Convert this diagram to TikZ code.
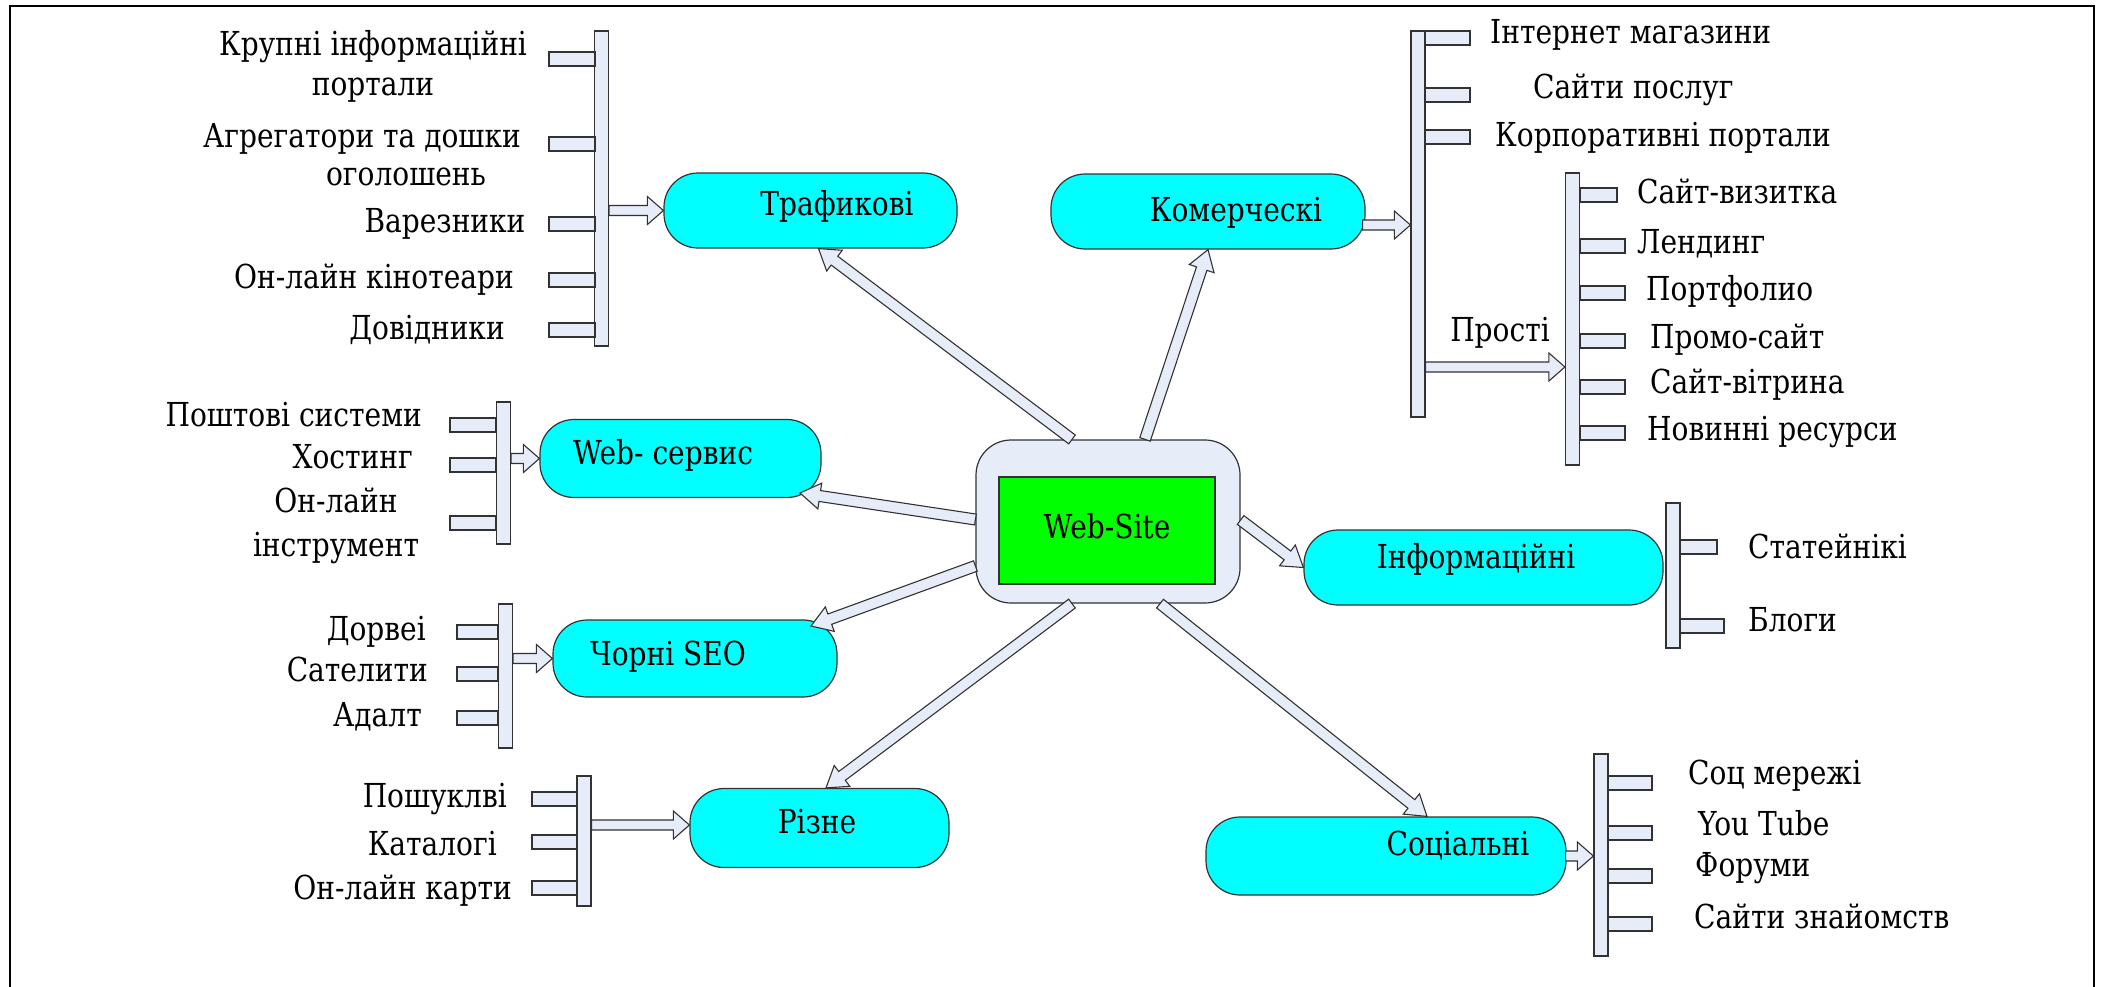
\documentclass[tikz,border=0pt]{standalone}
\usepackage{fontspec}
\setmainfont{DejaVu Serif}[FakeStretch=0.85]
\usetikzlibrary{calc}
\definecolor{paleblue}{RGB}{230,236,248}
\definecolor{pillcyan}{RGB}{0,255,255}
\definecolor{sitegreen}{RGB}{0,255,0}
\definecolor{edge}{RGB}{50,50,50}

% block arrow: start, tip, shaft half-width, head half-width, head length
\newcommand\blockarrow[5]{%
  \coordinate (ba-b) at ($(#2)!#5!(#1)$);
  \draw[arrowbody] ($(#1)!#3!90:(#2)$) -- ($(ba-b)!#3!90:(#2)$) -- ($(ba-b)!#4!90:(#2)$)
    -- (#2) -- ($(ba-b)!#4!-90:(#2)$) -- ($(ba-b)!#3!-90:(#2)$) -- ($(#1)!#3!-90:(#2)$) -- cycle;}
\newcommand\hubarrow[2]{\blockarrow{#1}{#2}{5.5pt}{13pt}{20pt}}
\newcommand\feedarrow[2]{\blockarrow{#1}{#2}{5pt}{14pt}{16pt}}

\begin{document}
\begin{tikzpicture}[x=1pt,y=-1pt,
  lbl/.style={font=\fontsize{33pt}{40pt}\selectfont, inner sep=0pt, text height=24pt, text depth=8pt},
  pill/.style={draw=edge, line width=1.2pt, fill=pillcyan, rounded corners=34pt, inner sep=0pt},
  bar/.style={draw=edge, line width=1.2pt, fill=paleblue, minimum width=14pt, inner sep=0pt},
  stub/.style={draw=edge, line width=1.2pt, fill=paleblue, minimum height=14pt, inner sep=0pt},
  arrowbody/.style={draw=edge, line width=1.1pt, fill=paleblue, line join=miter},
  frame/.style={line width=2.5pt, black}]
\useasboundingbox (0,0) rectangle (2101,986);
\draw[frame] (10,990) -- (10,6) -- (2094,6) -- (2094,990);

% centre
\node[draw=edge, line width=1.2pt, fill=paleblue, rounded corners=35pt,
      minimum width=264pt, minimum height=163pt] (site) at (1108,521.5) {};
\node[lbl, draw=edge, line width=1.2pt, fill=sitegreen,
      minimum width=216pt, minimum height=107pt] (core) at (1107,530.5) {Web-Site};

% category pills
\node[pill, minimum width=293pt, minimum height=75pt] (traf) at (810.5,210.5) {};
\node[pill, minimum width=314pt, minimum height=75pt] (kom) at (1208,211.5) {};
\node[pill, minimum width=281pt, minimum height=78pt] (web) at (680.5,458.5) {};
\node[pill, minimum width=284pt, minimum height=77pt] (seo) at (695,658.5) {};
\node[pill, minimum width=259pt, minimum height=79pt] (rizne) at (819.5,828) {};
\node[pill, minimum width=359pt, minimum height=75pt] (info) at (1483.5,567.5) {};
\node[pill, minimum width=360pt, minimum height=78pt] (soc) at (1386,856) {};

\node[lbl] (trafT) at (837,207) {Трафикові};
\node[lbl] (komT) at (1236,213) {Комерческі};
\node[lbl] (webT) at (663,456) {Web- сервис};
\node[lbl] (seoT) at (668,657) {Чорні SEO};
\node[lbl] (rizneT) at (817,825) {Різне};
\node[lbl] (infoT) at (1476,560) {Інформаційні};
\node[lbl] (socT) at (1458,847) {Соціальні};

% bars
\node[bar, minimum height=315pt] (tbar) at (601.5,188.5) {};
\node[bar, minimum height=386pt] (kbar) at (1418,224) {};
\node[bar, minimum height=292pt] (pbar) at (1572.5,319) {};
\node[bar, minimum height=142pt] (wbar) at (503.5,473) {};
\node[bar, minimum height=144pt] (sbar) at (505.5,676) {};
\node[bar, minimum height=130pt] (rbar) at (584,841) {};
\node[bar, minimum height=145pt] (ibar) at (1673,575.5) {};
\node[bar, minimum height=202pt] (cbar) at (1601,855) {};

% stubs
\foreach \y [count=\i] in {59,144,224,280,330}
  \node[stub, minimum width=46pt] (ts\i) at (572,\y) {};
\foreach \y [count=\i] in {38,95,137}
  \node[stub, minimum width=45pt] (ks\i) at (1447.5,\y) {};
\node[stub, minimum width=37pt] (ps1) at (1598.5,195) {};
\foreach \y [count=\i from 2] in {246,293,341,387,433}
  \node[stub, minimum width=45pt] (ps\i) at (1602.5,\y) {};
\foreach \y [count=\i] in {425,465,523}
  \node[stub, minimum width=46pt] (ws\i) at (473,\y) {};
\foreach \y [count=\i] in {632,674,718}
  \node[stub, minimum width=41pt] (ss\i) at (477.5,\y) {};
\foreach \y [count=\i] in {799,842,888}
  \node[stub, minimum width=45pt] (rs\i) at (554.5,\y) {};
\node[stub, minimum width=37pt] (is1) at (1698.5,547) {};
\node[stub, minimum width=44pt] (is2) at (1702,626) {};
\foreach \y [count=\i] in {783,833,876,924}
  \node[stub, minimum width=44pt] (cs\i) at (1630,\y) {};

% item labels
\node[lbl] (tx1) at (373,47) {Крупні інформаційні};
\node[lbl] (tx2) at (373,87) {портали};
\node[lbl] (tx3) at (362,139) {Агрегатори та дошки};
\node[lbl] (tx4) at (406,177) {оголошень};
\node[lbl] (tx5) at (445,224) {Варезники};
\node[lbl] (tx6) at (374,280) {Он-лайн кінотеари};
\node[lbl] (tx7) at (427,331) {Довідники};

\node[lbl, anchor=west] (kx1) at (1490,35) {Інтернет магазини};
\node[lbl, anchor=west] (kx2) at (1533,90) {Сайти послуг};
\node[lbl, anchor=west] (kx3) at (1495,138) {Корпоративні портали};
\node[lbl] (prostiT) at (1500,333) {Прості};

\node[lbl, anchor=west] (px1) at (1637,195) {Сайт-визитка};
\node[lbl, anchor=west] (px2) at (1637,245) {Лендинг};
\node[lbl, anchor=west] (px3) at (1646,292) {Портфолио};
\node[lbl, anchor=west] (px4) at (1650,340) {Промо-сайт};
\node[lbl, anchor=west] (px5) at (1650,385) {Сайт-вітрина};
\node[lbl, anchor=west] (px6) at (1647,432) {Новинні ресурси};

\node[lbl, anchor=east] (wx1) at (422,418) {Поштові системи};
\node[lbl, anchor=east] (wx2) at (413,460) {Хостинг};
\node[lbl] (wx3) at (336,504) {Он-лайн};
\node[lbl] (wx4) at (336,548) {інструмент};

\node[lbl, anchor=east] (sx1) at (426,632) {Дорвеі};
\node[lbl, anchor=east] (sx2) at (428,673) {Сателити};
\node[lbl, anchor=east] (sx3) at (422,718) {Адалт};

\node[lbl, anchor=east] (rx1) at (507,799) {Пошуклві};
\node[lbl, anchor=east] (rx2) at (497,847) {Каталогі};
\node[lbl, anchor=east] (rx3) at (512,891) {Он-лайн карти};

\node[lbl, anchor=west] (ix1) at (1748,550) {Статейнікі};
\node[lbl, anchor=west] (ix2) at (1748,623) {Блоги};

\node[lbl, anchor=west] (cx1) at (1688,776) {Соц мережі};
\node[lbl, anchor=west] (cx2) at (1698,827) {You Tube};
\node[lbl, anchor=west] (cx3) at (1695,868) {Форуми};
\node[lbl, anchor=west] (cx4) at (1694,920) {Сайти знайомств};

% hub arrows: end points on the node borders
\coordinate (a1s) at ($(site.north)+(-36,0)$);  \coordinate (a1e) at ($(traf.south)+(8,0)$);
\coordinate (a2s) at ($(site.north)+(37,0)$);   \coordinate (a2e) at ($(kom.south)+(0,0)$);
\coordinate (a3s) at ($(site.west)+(0,-2)$);    \coordinate (a3e) at ($(web.center)+(119.5,34.5)$);
\coordinate (a4s) at ($(site.west)+(0,44.5)$);  \coordinate (a4e) at ($(seo.center)+(116,-32.5)$);
\coordinate (a5s) at ($(site.south)+(-36,0)$);  \coordinate (a5e) at ($(rizne.north)+(6.5,0)$);
\coordinate (a6s) at ($(site.east)+(0,-1.5)$);  \coordinate (a6e) at (info.west);
\coordinate (a7s) at ($(site.south)+(52,0)$);   \coordinate (a7e) at ($(soc.north)+(41,0)$);
\hubarrow{a1s}{a1e}
\hubarrow{a2s}{a2e}
\hubarrow{a3s}{a3e}
\hubarrow{a4s}{a4e}
\hubarrow{a5s}{a5e}
\hubarrow{a6s}{a6e}
\hubarrow{a7s}{a7e}

% bar-to-pill arrows
\coordinate (f1s) at (tbar.east |- traf.west);  \coordinate (f1e) at (traf.west);
\coordinate (f2s) at (wbar.east |- web.west);   \coordinate (f2e) at (web.west);
\coordinate (f3s) at (sbar.east |- seo.west);   \coordinate (f3e) at (seo.west);
\coordinate (f4s) at ($(rbar.east)+(0,-16)$);   \coordinate (f4e) at ($(rizne.west)+(0,-3)$);
\coordinate (f5s) at ($(kom.east)+(-3,13.5)$);  \coordinate (f5e) at (kbar.west |- f5s);
\coordinate (f6s) at ($(kbar.east)+(0,143)$);   \coordinate (f6e) at (pbar.west |- f6s);
\coordinate (f7s) at ($(soc.east)+(-1,0)$);     \coordinate (f7e) at (cbar.west |- f7s);
\feedarrow{f1s}{f1e}
\feedarrow{f2s}{f2e}
\feedarrow{f3s}{f3e}
\feedarrow{f4s}{f4e}
\feedarrow{f5s}{f5e}
\feedarrow{f6s}{f6e}
\feedarrow{f7s}{f7e}
\end{tikzpicture}
\end{document}
